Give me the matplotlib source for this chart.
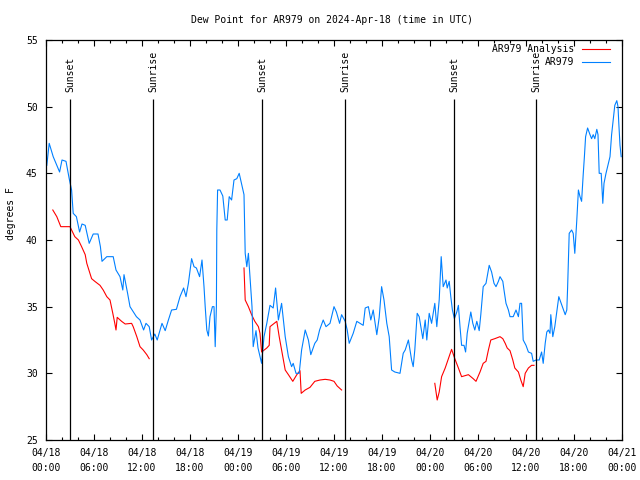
import numpy as np
import matplotlib
matplotlib.use("Agg")
import matplotlib.pyplot as plt

plt.rcParams["font.family"] = "DejaVu Sans Mono"
plt.rcParams["font.size"] = 7

# hours since 2024-04-18 00:00 UTC
obs_hours = [
    0.1, 0.4, 0.9, 1.7, 2.0, 2.5, 2.9, 3.2, 3.4, 3.8, 4.2, 4.5, 4.9, 5.4, 5.9, 6.5, 6.8, 7.0,
    7.6, 8.4, 8.75, 9.25, 9.6, 9.75, 10.2, 10.5, 11.3, 11.75, 12.2, 12.5, 12.9, 13.2, 13.6,
    13.9, 14.5, 14.9, 15.3, 15.7, 16.3, 16.75, 17.2, 17.5, 17.8, 18.2, 18.5, 18.8, 19.2, 19.5,
    19.75, 19.9, 20.1, 20.3, 20.5, 20.8, 21.0, 21.15, 21.3, 21.35, 21.45, 21.75, 22.1, 22.4,
    22.65, 22.9, 23.2, 23.5, 23.85, 24.15, 24.45, 24.75, 24.9, 25.1, 25.3, 25.5, 25.75, 25.9,
    26.25, 26.5, 26.75, 26.95, 27.25, 27.6, 28.0, 28.4, 28.7, 29.05, 29.45, 29.9, 30.3, 30.7,
    30.9, 31.25, 31.65, 31.95, 32.4, 32.8, 33.1, 33.6, 33.9, 34.2, 34.65, 35.0, 35.5, 36.0,
    36.3, 36.7, 36.95, 37.4, 37.65, 37.9, 38.4, 38.85, 39.25, 39.65, 39.9, 40.3, 40.6, 40.9,
    41.35, 41.65, 41.95, 42.25, 42.6, 42.9, 43.2, 43.6, 44.25, 44.65, 44.9, 45.3, 45.7, 45.9,
    46.1, 46.4, 46.65, 47.1, 47.4, 47.6, 47.9, 48.2, 48.6, 48.85, 49.15, 49.4, 49.65, 50.0,
    50.15, 50.4, 50.6, 50.8, 51.05, 51.35, 51.55, 51.75, 51.95, 52.25, 52.45, 52.65, 53.1,
    53.35, 53.6, 53.85, 54.15, 54.35, 54.65, 55.0, 55.4, 55.7, 56.0, 56.25, 56.55, 56.75,
    57.1, 57.25, 57.5, 57.8, 58.0, 58.4, 58.75, 59.05, 59.25, 59.45, 59.65, 60.0, 60.3, 60.7,
    60.9, 61.25, 61.65, 61.95, 62.15, 62.4, 62.6, 62.8, 63.0, 63.1, 63.35, 63.6, 63.85, 64.1,
    64.4, 64.6, 64.9, 65.1, 65.2, 65.4, 65.7, 65.9, 66.1, 66.35, 66.55, 66.75, 66.95, 67.15,
    67.3, 67.45, 67.7, 68.0, 68.2, 68.4, 68.6, 68.85, 69.0, 69.15, 69.4, 69.6, 69.75, 70.0,
    70.3, 70.5, 70.7, 70.9, 71.1, 71.35, 71.5, 71.6, 71.75, 71.9,
]
obs_dewpt = [
    45.6, 47.25, 46.25, 45.1, 46.0, 45.9, 44.6, 43.75, 42.0, 41.75, 40.6, 41.2, 41.1, 39.75,
    40.45, 40.45, 39.5, 38.4, 38.75, 38.75, 37.75, 37.25, 36.25, 37.4, 36.0, 35.0, 34.25,
    34.0, 33.25, 33.75, 33.5, 32.5, 32.95, 32.5, 33.75, 33.2, 34.0, 34.75, 34.8, 35.75, 36.4,
    35.75, 36.75, 38.6, 38.0, 37.9, 37.25, 38.5, 36.5, 35.0, 33.25, 32.8, 34.25, 35.0, 35.0,
    32.0, 35.0, 40.75, 43.75, 43.75, 43.3, 41.5, 41.5, 43.25, 43.0, 44.5, 44.6, 45.0, 44.2,
    43.4, 39.0, 38.0, 39.0, 37.25, 35.0, 32.0, 33.2, 31.9, 31.25, 30.75, 32.75, 33.75, 35.1,
    34.9, 36.4, 34.0, 35.25, 32.75, 31.25, 30.5, 30.75, 30.0, 30.0, 31.75, 33.25, 32.5, 31.4,
    32.25, 32.5, 33.25, 34.0, 33.5, 33.75, 35.0, 34.6, 33.75, 34.4, 33.9, 33.25, 32.25, 33.0,
    33.9, 33.75, 33.6, 34.9, 35.0, 34.0, 34.75, 32.9, 34.2, 36.5, 35.5, 33.75, 32.75, 30.25,
    30.1, 30.0, 31.5, 31.75, 32.5, 31.0, 30.5, 31.75, 34.5, 34.25, 32.6, 34.0, 32.5, 34.5,
    33.75, 35.25, 33.5, 35.5, 38.75, 36.5, 37.0, 36.4, 36.9, 35.75, 34.75, 34.1, 34.6, 35.1,
    33.5, 32.1, 32.1, 31.6, 33.0, 34.6, 33.75, 33.25, 33.9, 33.2, 34.4, 36.5, 36.75, 38.1,
    37.6, 36.75, 36.5, 36.9, 37.25, 36.9, 36.25, 35.25, 34.75, 34.25, 34.25, 34.75, 34.25,
    35.25, 35.25, 32.5, 32.1, 31.6, 31.5, 30.9, 31.0, 31.0, 31.6, 30.75, 32.25, 33.1, 33.25,
    33.0, 34.4, 32.75, 33.5, 34.6, 35.75, 35.25, 34.9, 34.4, 34.75, 36.4, 40.5, 40.75, 40.5,
    39.0, 41.5, 43.75, 43.25, 42.9, 44.9, 46.25, 47.75, 48.4, 47.9, 47.6, 47.9, 47.6, 48.3,
    47.9, 45.0, 45.0, 42.75, 44.25, 45.0, 45.75, 46.25, 47.9, 49.0, 50.1, 50.45, 50.0, 48.75,
    47.1, 46.25,
]

# analysis series, NaN marks gaps between the three runs
anl_hours = [
    0.85, 1.35, 1.85, 3.0, 3.6, 4.05, 4.45, 4.9, 5.1, 5.7, 6.1, 6.75, 7.15, 7.6, 8.0, 8.35,
    8.6, 8.75, 8.9, 9.45, 9.9, 10.7, 10.9, 11.35, 11.75, 12.15, 12.6, 12.9,
    18.0,
    24.75, 24.9, 25.3, 25.7, 26.1, 26.55, 26.75, 26.95, 27.6, 27.9, 28.0, 28.85, 29.15, 29.45,
    29.9, 30.3, 30.85, 31.35, 31.75, 31.9, 32.4, 33.0, 33.6, 34.25, 34.9, 35.5, 36.0, 36.4,
    36.95,
    42.0,
    48.6, 48.9, 49.15, 49.45, 49.9, 50.3, 50.7, 51.1, 51.55, 51.95, 52.8, 53.4, 53.75, 54.25,
    54.65, 55.0, 55.3, 55.6, 56.1, 56.75, 57.1, 57.4, 57.65, 58.0, 58.35, 58.6, 59.05, 59.35,
    59.65, 59.9, 60.3, 60.7, 61.0,
]
anl_dewpt = [
    42.25, 41.75, 41.0, 41.0, 40.25, 40.0, 39.5, 38.9, 38.25, 37.1, 36.9, 36.6, 36.25, 35.75,
    35.5, 34.5, 33.75, 33.25, 34.2, 33.9, 33.7, 33.75, 33.5, 32.75, 32.0, 31.75, 31.4, 31.1,
    np.nan,
    37.9, 35.5, 35.0, 34.4, 33.9, 33.5, 33.0, 31.6, 31.9, 32.1, 33.5, 33.9, 32.75, 31.75,
    30.25, 29.9, 29.4, 29.9, 30.2, 28.5, 28.75, 28.95, 29.4, 29.5, 29.55, 29.5, 29.4, 29.05,
    28.75,
    np.nan,
    29.25, 28.0, 28.6, 29.75, 30.4, 31.1, 31.8, 31.1, 30.4, 29.75, 29.9, 29.6, 29.4, 30.1,
    30.75, 30.9, 31.75, 32.5, 32.6, 32.75, 32.6, 32.25, 31.9, 31.7, 31.0, 30.4, 30.1, 29.5,
    29.0, 30.0, 30.4, 30.6, 30.6,
]

sunset_hours = [3.0, 27.0, 51.0]
sunrise_hours = [13.4, 37.4, 61.3]

tick_hours = [0, 6, 12, 18, 24, 30, 36, 42, 48, 54, 60, 66, 72]
tick_labels = [
    "04/18\n00:00", "04/18\n06:00", "04/18\n12:00", "04/18\n18:00",
    "04/19\n00:00", "04/19\n06:00", "04/19\n12:00", "04/19\n18:00",
    "04/20\n00:00", "04/20\n06:00", "04/20\n12:00", "04/20\n18:00",
    "04/21\n00:00",
]

fig = plt.figure(figsize=(6.4, 4.8), dpi=100)
ax = fig.add_axes([46 / 640, 40 / 480, 576 / 640, 400 / 480])

ax.plot(anl_hours, anl_dewpt, color="#ff0000", lw=0.8, label="AR979 Analysis")
ax.plot(obs_hours, obs_dewpt, color="#0080ff", lw=0.8, label="AR979")

line_top = 50.6
ax.vlines(sunset_hours + sunrise_hours, 25, line_top, color="black", lw=0.9)
for h in sunset_hours:
    ax.text(h, line_top + 0.5, "Sunset", rotation=90, ha="center", va="bottom")
for h in sunrise_hours:
    ax.text(h, line_top + 0.5, "Sunrise", rotation=90, ha="center", va="bottom")

ax.set_xlim(0, 72)
ax.set_ylim(25, 55)
ax.set_xticks(tick_hours)
ax.set_xticklabels(tick_labels, linespacing=1.6)
ax.set_xticks(np.arange(0, 73, 2), minor=True)
ax.set_yticks([25, 30, 35, 40, 45, 50, 55])
ax.tick_params(which="both", direction="in", top=True, right=True, width=0.8)
ax.tick_params(which="major", length=4)
ax.tick_params(which="minor", length=2.5)
ax.tick_params(axis="x", pad=6)
ax.tick_params(axis="y", pad=6)
for sp in ax.spines.values():
    sp.set_linewidth(0.9)

ax.set_ylabel("degrees F")
ax.yaxis.set_label_coords(-0.052, 0.565)

fig.text(0.518, 0.958, "Dew Point for AR979 on 2024-Apr-18 (time in UTC)", ha="center", va="center")

ax.legend(loc="upper right", bbox_to_anchor=(0.979, 0.99), frameon=False, markerfirst=False,
          borderaxespad=0, borderpad=0, handlelength=2.9, handletextpad=0.8, labelspacing=0.35)

fig.savefig("out.png", dpi=100)
